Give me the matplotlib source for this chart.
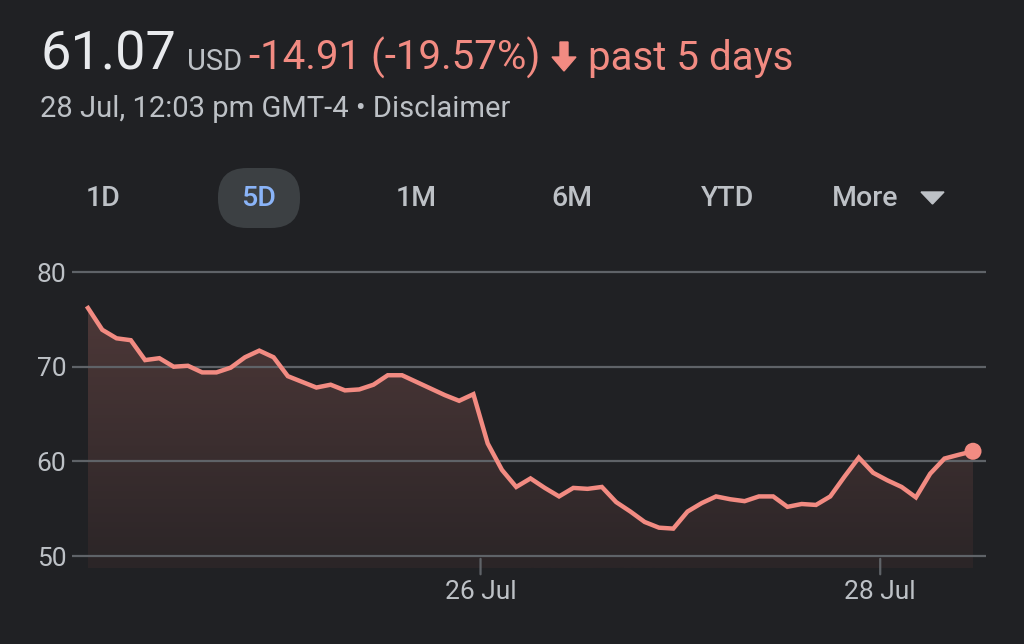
import matplotlib.pyplot as plt
import numpy as np
from matplotlib.colors import LinearSegmentedColormap
from matplotlib.patches import FancyBboxPatch, Polygon
from matplotlib.transforms import IdentityTransform

plt.rcParams['font.family'] = ['Roboto', 'DejaVu Sans']

# price samples over the 5 day window (index = sample number)
prices = [
	76.2, 73.9, 73.0, 72.8, 70.7, 70.9, 70.0, 70.1, 69.4, 69.4,
	69.9, 71.0, 71.7, 71.0, 69.0, 68.4, 67.8, 68.1, 67.5, 67.6,
	68.1, 69.1, 69.1, 68.4, 67.7, 67.0, 66.4, 67.1, 61.9, 59.1,
	57.3, 58.2, 57.2, 56.3, 57.2, 57.1, 57.3, 55.7, 54.7, 53.6,
	53.0, 52.9, 54.7, 55.6, 56.3, 56.0, 55.8, 56.3, 56.3, 55.2,
	55.5, 55.4, 56.3, 58.4, 60.4, 58.8, 58.0, 57.3, 56.2, 58.7,
	60.3, 60.7, 61.07,
]
y_ticks = [50, 60, 70, 80]
x_tick_pos = [27.5, 55.5]
x_tick_labels = ["26 Jul", "28 Jul"]
ranges = ["1D", "5D", "1M", "6M", "YTD", "More"]
range_x = [103, 259, 416, 572, 728, 865]

BG = "#202124"
RED = "#f28b82"
GRID = "#5f6368"
TXT = "#bdc1c6"

W, H = 1024, 644
fig = plt.figure(figsize=(W / 100, H / 100), dpi=100, facecolor=BG)


def fx(px):
	return px / W


def fy(py):
	return 1 - py / H


# header
fig.text(fx(40), fy(70), "61.07", color="#e8eaed", fontsize=39, va="baseline")
fig.text(fx(187), fy(70), "USD", color=TXT, fontsize=21, va="baseline")
fig.text(fx(249), fy(70), "-14.91 (-19.57%)", color=RED, fontsize=29, va="baseline")
arrow = [(560, 42), (568, 42), (568, 57), (576, 57), (564, 71), (552, 57), (560, 57)]
fig.patches.append(Polygon([(x, H - y) for x, y in arrow], closed=True, color=RED,
	transform=IdentityTransform()))
fig.text(fx(588), fy(70), "past 5 days", color=RED, fontsize=29, va="baseline")
fig.text(fx(40), fy(117), "28 Jul, 12:03 pm GMT-4 \u2022 Disclaimer", color=TXT, fontsize=21,
	va="baseline")

# range selector
fig.patches.append(FancyBboxPatch((218, H - 228), 82, 60, boxstyle="round,pad=0,rounding_size=29",
	facecolor="#3c4043", edgecolor="none", transform=IdentityTransform()))
for label, x in zip(ranges, range_x):
	col = "#8ab4f8" if label == "5D" else TXT
	fig.text(fx(x), fy(198), label, color=col, fontsize=20.5, ha="center", va="center",
		fontweight="medium")
tri = [(921, 192), (944, 192), (932.5, 204)]
fig.patches.append(Polygon([(x, H - y) for x, y in tri], closed=True, color=TXT,
	transform=IdentityTransform()))

# chart
ax = fig.add_axes([fx(72), fy(568), fx(986) - fx(72), (568 - 262) / H])
ax.set_facecolor(BG)
for s in ax.spines.values():
	s.set_visible(False)

x = np.arange(len(prices))
ymin, ymax = 48.74, 81.06
ax.set_xlim(-1.12, 62.91)
ax.set_ylim(ymin, ymax)

for v in y_ticks:
	ax.axhline(v, color=GRID, lw=1.6, zorder=1)

# gradient fill under the line
fill = ax.fill_between(x, prices, ymin, color="none", lw=0)
grad = np.linspace(0, 1, 256).reshape(-1, 1)
cmap = LinearSegmentedColormap.from_list("g", ["#2b2527", "#4d3838"])
img = ax.imshow(grad, cmap=cmap, aspect="auto", origin="lower",
	extent=[0, len(prices) - 1, ymin, max(prices)], zorder=0.5)
img.set_clip_path(fill.get_paths()[0], transform=ax.transData)

ax.plot(x, prices, color=RED, lw=3.2, solid_joinstyle="miter", zorder=3)
ax.scatter([x[-1]], [prices[-1]], s=150, color=RED, zorder=4, edgecolors="none")

ax.set_yticks(y_ticks)
ax.set_yticklabels([str(v) for v in y_ticks])
ax.tick_params(axis="y", length=0, labelsize=19, labelcolor=TXT, pad=4)
ax.set_xticks([])
for pos, lab in zip(x_tick_pos, x_tick_labels):
	ax.annotate("", xy=(pos, 50), xytext=(0, -21), textcoords="offset pixels",
		arrowprops=dict(arrowstyle="-", color=GRID, lw=1.6), annotation_clip=False)
	ax.annotate(lab, xy=(pos, 50), xytext=(0, -36), textcoords="offset pixels",
		ha="center", va="center", color=TXT, fontsize=19, annotation_clip=False)

fig.savefig("out.png", dpi=100, facecolor=BG)
